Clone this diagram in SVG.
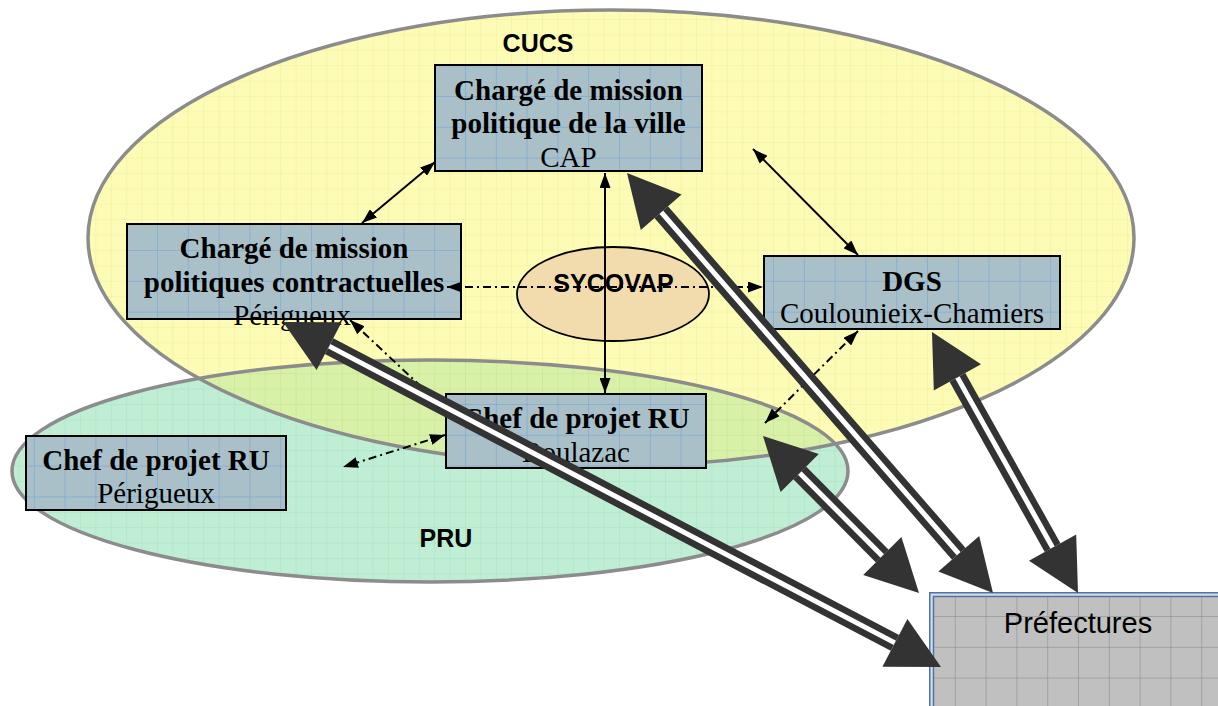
<svg xmlns="http://www.w3.org/2000/svg" width="1218" height="706" viewBox="0 0 1218 706">
<style>
.bt{font-family:"Liberation Serif","Times New Roman",serif;font-weight:bold;font-size:29px;fill:#000;text-anchor:middle}
.rt{font-family:"Liberation Serif","Times New Roman",serif;font-size:29px;fill:#000;text-anchor:middle}
.lab{font-family:"Liberation Sans",Arial,sans-serif;font-weight:bold;font-size:25px;fill:#000;text-anchor:middle}
.box{fill:url(#boxgrid);stroke:#000;stroke-width:2}
.area{stroke:#8c8c8c;stroke-width:3.5;fill:none}
.thin{stroke:#000;stroke-width:2;fill:none;marker-start:url(#ah);marker-end:url(#ah)}
.dd{stroke:#000;stroke-width:2;fill:none;stroke-dasharray:8 4 2 4;marker-start:url(#ah);marker-end:url(#ah)}
.sh{stroke:#333;stroke-width:18;fill:none}
.sw{stroke:#fff;stroke-width:5;fill:none}
.hd{fill:#333}
</style>
<defs>
<pattern id="boxgrid" patternUnits="userSpaceOnUse" x="3" y="3.6" width="30.8" height="30.8">
<rect width="30.8" height="30.8" fill="#a9c0c9"/>
<path d="M0,0 H30.8 M0,0 V30.8" stroke="#6e9ed6" stroke-width="1"/>
</pattern>
<pattern id="prefgrid" patternUnits="userSpaceOnUse" x="0" y="0" width="30.8" height="30.8">
<rect width="30.8" height="30.8" fill="#c0c0c0"/>
<path d="M0,0 H30.8 M0,0 V30.8" stroke="#858585" stroke-width="1"/>
</pattern>
<pattern id="yel" patternUnits="userSpaceOnUse" x="3" y="3.6" width="15.4" height="15.4">
<rect width="15.4" height="15.4" fill="#fdfcb6"/>
<path d="M0,0 H15.4 M0,0 V15.4" stroke="#f1ee96" stroke-width="1"/>
</pattern>
<pattern id="mint" patternUnits="userSpaceOnUse" x="3" y="3.6" width="15.4" height="15.4">
<rect width="15.4" height="15.4" fill="#bfeed5"/>
<path d="M0,0 H15.4 M0,0 V15.4" stroke="#a6e1c1" stroke-width="1"/>
</pattern>
<pattern id="ovl" patternUnits="userSpaceOnUse" x="3" y="3.6" width="15.4" height="15.4">
<rect width="15.4" height="15.4" fill="#d8f0a8"/>
<path d="M0,0 H15.4 M0,0 V15.4" stroke="#c2e48e" stroke-width="1"/>
</pattern>
<clipPath id="cucsclip"><ellipse cx="611" cy="238" rx="523" ry="228"/></clipPath>
<marker id="ah" markerUnits="userSpaceOnUse" markerWidth="15" markerHeight="11" refX="15" refY="5.5" orient="auto-start-reverse">
<path d="M0,0 L15,5.5 L0,11 z" fill="#000"/>
</marker>
</defs>

<g id="areas">
<ellipse cx="611" cy="238" rx="523" ry="228" fill="url(#yel)"/>
<ellipse cx="430" cy="471" rx="418" ry="111" fill="url(#mint)"/>
<ellipse cx="430" cy="471" rx="418" ry="111" fill="url(#ovl)" clip-path="url(#cucsclip)"/>
<ellipse class="area" cx="611" cy="238" rx="523" ry="228"/>
<ellipse class="area" cx="430" cy="471" rx="418" ry="111"/>
<text class="lab" x="538" y="52">CUCS</text>
<text class="lab" x="446" y="547">PRU</text>
</g>

<g id="node-cap">
<rect class="box" x="435" y="65" width="267" height="106"/>
<text class="bt" x="568.5" y="100">Chargé de mission</text>
<text class="bt" x="568.5" y="133">politique de la ville</text>
<text class="rt" x="568.5" y="167">CAP</text>
</g>

<g id="node-contract">
<rect class="box" x="127" y="224" width="334" height="95"/>
<text class="bt" x="294" y="258">Chargé de mission</text>
<text class="bt" x="294" y="292">politiques contractuelles</text>
<text class="rt" x="292" y="325">Périgueux</text>
</g>

<g id="node-dgs">
<rect class="box" x="764" y="256" width="296" height="73"/>
<text class="bt" x="912" y="291">DGS</text>
<text class="rt" x="912" y="323">Coulounieix-Chamiers</text>
</g>

<g id="node-boulazac">
<rect class="box" x="446" y="394" width="260" height="74"/>
<text class="bt" x="576" y="428">Chef de projet RU</text>
<text class="rt" x="576" y="462">Boulazac</text>
</g>

<g id="node-perigueux">
<rect class="box" x="26" y="436" width="260" height="74"/>
<text class="bt" x="156" y="470">Chef de projet RU</text>
<text class="rt" x="156" y="503">Périgueux</text>
</g>

<g id="node-sycovap">
<ellipse cx="613" cy="294" rx="96" ry="47" fill="#f2dcae" stroke="#000" stroke-width="1.8"/>
<text class="lab" x="613.5" y="292" font-size="24">SYCOVAP</text>
</g>

<g id="node-prefectures">
<rect x="929.75" y="592.75" width="300" height="130" fill="#d3dbe8" stroke="#4f74a8" stroke-width="1.5"/>
<rect x="933.5" y="596.5" width="300" height="130" fill="url(#prefgrid)" stroke="#4f74a8" stroke-width="1.5"/>
<text x="1078" y="633" font-family="'Liberation Sans',Arial,sans-serif" font-size="29" fill="#000" text-anchor="middle">Préfectures</text>
</g>

<g id="connectors">
<path class="thin" d="M362,223 L435,162"/>
<path class="thin" d="M605,173 L605,393"/>
<path class="thin" d="M753,149 L858,255"/>
<path class="dd" d="M447,287 L763,287"/>
<path class="dd" d="M350,320 L443,407"/>
<path class="dd" d="M445,435 L343,467"/>
<path class="dd" d="M858,331 L765,423"/>

<g id="thick-cap">
<path class="sh" d="M661.2,212.2 L958.8,553.8"/>
<path class="sw" d="M661.2,212.2 L958.8,553.8"/>
<polygon class="hd" points="627,173 640.8,229.9 681.6,194.5"/>
<polygon class="hd" points="993,593 938.4,571.5 979.2,536.1"/>
</g>
<g id="thick-dgs">
<path class="sh" d="M957.4,377.4 L1052.6,547.6"/>
<path class="sw" d="M957.4,377.4 L1052.6,547.6"/>
<polygon class="hd" points="932,332 933.8,390.6 981,364.2"/>
<polygon class="hd" points="1078,593 1029,560.8 1076.2,534.4"/>
</g>
<g id="thick-boulazac">
<path class="sh" d="M799.7,472.9 L882.3,556.1"/>
<path class="sw" d="M799.7,472.9 L882.3,556.1"/>
<polygon class="hd" points="763,436 780.6,491.9 818.8,453.9"/>
<polygon class="hd" points="919,593 863.2,575.1 901.4,537.1"/>
</g>
<g id="thick-contract">
<path class="sh" d="M329.1,346.1 L894.9,642.9"/>
<path class="sw" d="M329.1,346.1 L894.9,642.9"/>
<polygon class="hd" points="283,322 316.6,370 341.6,322.2"/>
<polygon class="hd" points="941,667 882.4,666.8 907.4,619"/>
</g>
</g>
</svg>
